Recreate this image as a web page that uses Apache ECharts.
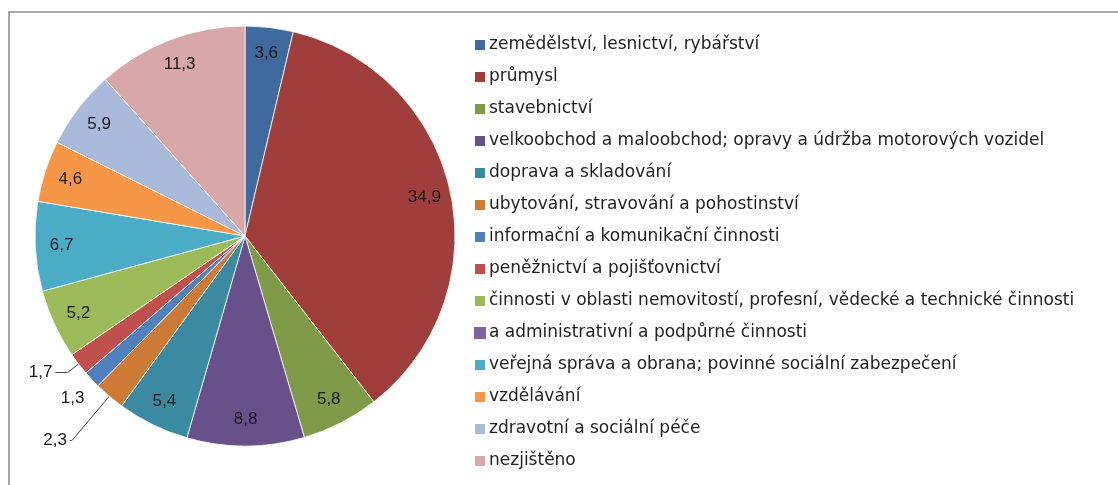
<!DOCTYPE html>
<html>
<head>
<meta charset="utf-8">
<script src="https://cdn.jsdelivr.net/npm/echarts@6/dist/echarts.min.js"></script>
<style>
  html, body { margin: 0; padding: 0; background: #fff; }
  #chart { width: 1118px; height: 485px; }
</style>
</head>
<body>
<div id="chart"></div>
<script>
// odvětví a jejich podíly (%)
const categories = [
  'zemědělství, lesnictví, rybářství',
  'průmysl',
  'stavebnictví',
  'velkoobchod a maloobchod; opravy a údržba motorových vozidel',
  'doprava a skladování',
  'ubytování, stravování a pohostinství',
  'informační a komunikační činnosti',
  'peněžnictví a pojišťovnictví',
  'činnosti v oblasti nemovitostí, profesní, vědecké a technické činnosti',
  'a administrativní a podpůrné činnosti',
  'veřejná správa a obrana; povinné sociální zabezpečení',
  'vzdělávání',
  'zdravotní a sociální péče',
  'nezjištěno'
];
// 'a administrativní a podpůrné činnosti' nemá v grafu výseč
const values = [3.6, 34.9, 5.8, 8.8, 5.4, 2.3, 1.3, 1.7, 5.2, 0, 6.7, 4.6, 5.9, 11.3];
const colors = [
  '#3E6A9F', '#9F3E3B', '#7F9B48', '#68518A', '#3A8BA1', '#CD7A37',
  '#4F81BD', '#C0504D', '#9BBB59', '#8064A2', '#4BACC6', '#F79646',
  '#A9B9D9', '#D8A7A7'
];
// malé výseče mají popisek venku
const outsideLabels = {
  'ubytování, stravování a pohostinství': { length: 58, length2: 2, line: true, shift: [0, 0] },
  'informační a komunikační činnosti': { length: 10, length2: 0, line: false, shift: [3, 12] },
  'peněžnictví a pojišťovnictví': { length: 14, length2: 12, line: true, shift: [0, 0] }
};

const chart = echarts.init(document.getElementById('chart'));
const fmt = v => v.toFixed(1).replace('.', ',');
const R = 210;
const center = [245, 236];

const baseData = categories.map((name, i) => ({
  name: name,
  value: values[i],
  itemStyle: { color: colors[i], borderWidth: values[i] === 0 ? 0 : 0.8 }
}));

const labelData = categories.map((name, i) => {
  const o = outsideLabels[name];
  const item = { name: name, value: values[i] };
  if (values[i] === 0) {
    item.label = { show: false };
  } else if (o) {
    item.label = { position: 'outside', distanceToLabelLine: 3 };
    item.labelLine = {
      show: o.line, length: o.length, length2: o.length2,
      lineStyle: { color: '#404040', width: 1 }
    };
  }
  return item;
});

chart.setOption({
  animation: false,
  color: colors,
  graphic: [{
    type: 'rect',
    shape: { x: 9, y: 12, width: 1200, height: 600 },
    style: { fill: 'none', stroke: '#8c8c8c', lineWidth: 1.5 },
    silent: true
  }],
  legend: {
    orient: 'vertical',
    left: 468,
    top: 31,
    itemWidth: 12,
    itemHeight: 12,
    itemGap: 14,
    icon: 'rect',
    data: categories,
    textStyle: {
      fontFamily: 'DejaVu Sans',
      fontSize: 17,
      color: '#222',
      lineHeight: 18,
      padding: [0, 0, 0, -2]
    },
    selectedMode: false
  },
  series: [
    {
      type: 'pie',
      center: center,
      radius: [0, R],
      startAngle: 90,
      clockwise: true,
      silent: true,
      label: { show: false },
      labelLine: { show: false },
      itemStyle: { borderColor: '#fff', borderWidth: 0.8 },
      data: baseData
    },
    {
      type: 'pie',
      center: center,
      radius: [R * 0.72, R],
      startAngle: 90,
      clockwise: true,
      silent: true,
      avoidLabelOverlap: false,
      itemStyle: { color: 'rgba(0,0,0,0)', borderWidth: 0 },
      label: {
        show: true,
        position: 'inside',
        formatter: p => fmt(p.value),
        fontFamily: 'Liberation Sans',
        fontSize: 17,
        color: '#1a1a1a'
      },
      labelLine: { show: false },
      labelLayout: function (p) {
        const o = outsideLabels[categories[p.dataIndex]];
        return o ? { dx: o.shift[0], dy: o.shift[1] } : {};
      },
      data: labelData
    }
  ]
});
</script>
</body>
</html>
